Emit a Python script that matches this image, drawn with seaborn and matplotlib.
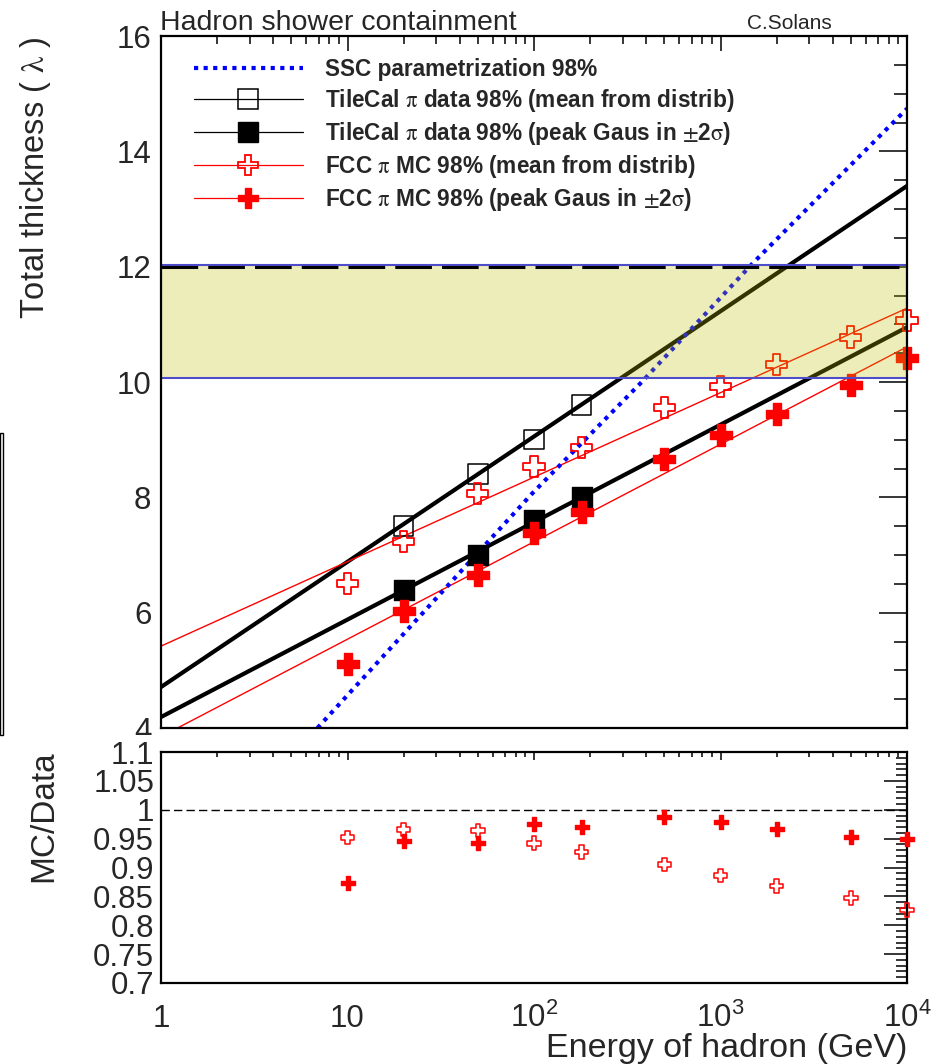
import numpy as np
import pandas as pd
import matplotlib
matplotlib.use("Agg")
import matplotlib.pyplot as plt
import seaborn as sns
from matplotlib.lines import Line2D
from matplotlib.patches import Rectangle
from matplotlib.ticker import MultipleLocator, LogLocator, NullFormatter, FixedLocator

# ---------------- data ----------------
E_tile = [20, 50, 100, 180]
tile_mean = [7.5, 8.4, 9.0, 9.6]
tile_peak = [6.4, 7.0, 7.6, 8.0]

E_fcc = [10, 20, 50, 100, 180, 500, 1000, 2000, 5000, 10000]
fcc_mean = [6.51, 7.24, 8.07, 8.53, 8.87, 9.55, 9.93, 10.31, 10.78, 11.06]
fcc_peak = [5.11, 6.03, 6.65, 7.38, 7.75, 8.66, 9.08, 9.44, 9.95, 10.42]

ratio_mean = [0.952, 0.966, 0.964, 0.942, 0.927, 0.905, 0.886, 0.868, 0.847, 0.826]
ratio_peak = [0.873, 0.946, 0.943, 0.975, 0.970, 0.988, 0.979, 0.967, 0.952, 0.950]

fit_E = [1, 10000]
tile_mean_fit = [4.71, 13.40]
tile_peak_fit = [4.19, 10.95]
fcc_mean_fit = [5.42, 11.28]
fcc_peak_fit = [3.85, 10.61]

ssc_E = [6.9, 98, 378, 1490, 10000]
ssc_y = [4.0, 8.07, 10.0, 12.06, 14.74]

band_lo, band_hi = 10.07, 12.0

legend_labels = [
    "SSC parametrization 98%",
    r"TileCal $\mathrm{\pi}$ data 98% (mean from distrib)",
    r"TileCal $\mathrm{\pi}$ data 98% (peak Gaus in $\pm$2$\mathrm{\sigma}$)",
    r"FCC $\mathrm{\pi}$ MC 98% (mean from distrib)",
    r"FCC $\mathrm{\pi}$ MC 98% (peak Gaus in $\pm$2$\mathrm{\sigma}$)",
]
upper_yticks = [4, 6, 8, 10, 12, 14, 16]
lower_yticks = [0.7, 0.75, 0.8, 0.85, 0.9, 0.95, 1.0, 1.05, 1.1]
xticks = [1, 10, 100, 1000, 10000]
xticklabels = ["1", "10", r"$\mathregular{10^{2}}$", r"$\mathregular{10^{3}}$", r"$\mathregular{10^{4}}$"]

# ---------------- style ----------------
sns.set_theme(style="white")
plt.rcParams["font.family"] = ["Liberation Sans", "DejaVu Sans"]
plt.rcParams["mathtext.fontset"] = "stix"

W, H = 933, 1064
fig = plt.figure(figsize=(W / 100, H / 100), dpi=100)
fig.patch.set_facecolor("white")


def rect(l, t, r, b):
    return [l / W, 1 - b / H, (r - l) / W, (b - t) / H]


ax1 = fig.add_axes(rect(161, 36, 907, 728))
ax2 = fig.add_axes(rect(161, 752, 907, 983))
ax1.set_zorder(0)
ax2.set_zorder(2)

RED = "#ff0000"

# ---------------- upper panel ----------------
sns.lineplot(x=fit_E, y=tile_mean_fit, color="black", lw=3, ax=ax1, zorder=2)
sns.lineplot(x=fit_E, y=tile_peak_fit, color="black", lw=3, ax=ax1, zorder=2)
sns.lineplot(x=fit_E, y=fcc_mean_fit, color=RED, lw=1.0, ax=ax1, zorder=2)
sns.lineplot(x=fit_E, y=fcc_peak_fit, color=RED, lw=1.0, ax=ax1, zorder=2)
sns.lineplot(x=ssc_E, y=ssc_y, color="#0000ff", lw=3, ax=ax1, zorder=3,
             linestyle=(0, (1.0, 1.3)))

sns.scatterplot(x=E_tile, y=tile_mean, marker="s", s=200, facecolor="none",
                edgecolor="black", linewidth=1.1, ax=ax1, zorder=4, clip_on=False)
sns.scatterplot(x=E_tile, y=tile_peak, marker="s", s=200, facecolor="black",
                edgecolor="black", linewidth=1.0, ax=ax1, zorder=4, clip_on=False)
sns.scatterplot(x=E_fcc, y=fcc_mean, marker="P", s=230, facecolor="none",
                edgecolor=RED, linewidth=1.3, ax=ax1, zorder=4, clip_on=False)
sns.scatterplot(x=E_fcc, y=fcc_peak, marker="P", s=230, facecolor=RED,
                edgecolor=RED, linewidth=1.0, ax=ax1, zorder=4, clip_on=False)

ax1.axhspan(band_lo, band_hi + 0.03, facecolor=(0.74, 0.74, 0.0, 0.27),
            edgecolor=(0.3, 0.3, 0.8, 1.0), lw=1.5, zorder=5)
ax1.axhline(band_hi, color="black", lw=2.2, dashes=(12, 3.3), zorder=6)

ax1.set_xscale("log")
ax1.set_xlim(1, 10000)
ax1.set_ylim(4, 16)
ax1.set_xlabel("")
ax1.set_ylabel("")
ax1.yaxis.set_major_locator(FixedLocator(upper_yticks))
ax1.yaxis.set_minor_locator(MultipleLocator(0.5))
ax1.xaxis.set_major_locator(FixedLocator(xticks))
ax1.xaxis.set_minor_locator(LogLocator(base=10, subs=range(2, 10), numticks=20))
ax1.xaxis.set_major_formatter(NullFormatter())
ax1.xaxis.set_minor_formatter(NullFormatter())
ax1.set_yticklabels([str(v) for v in upper_yticks])
ax1.tick_params(axis="both", which="both", direction="in", top=True, right=True,
                color="black", width=1.1)
ax1.tick_params(axis="y", which="major", length=20, pad=7, labelsize=22.5)
ax1.tick_params(axis="y", which="minor", length=9.5)
ax1.tick_params(axis="x", which="major", length=11)
ax1.tick_params(axis="x", which="minor", length=6)
for sp in ax1.spines.values():
    sp.set_color("black")
    sp.set_linewidth(1.6)
    sp.set_zorder(7)

handles = [
    Line2D([], [], color="#0000ff", lw=3, linestyle=(0, (1.0, 1.3))),
    Line2D([], [], color="black", lw=0.9, marker="s", ms=14, mfc="none", mec="black", mew=1.1),
    Line2D([], [], color="black", lw=0.9, marker="s", ms=14, mfc="black", mec="black"),
    Line2D([], [], color=RED, lw=0.9, marker="P", ms=15, mfc="none", mec=RED, mew=1.3),
    Line2D([], [], color=RED, lw=0.9, marker="P", ms=15, mfc=RED, mec=RED),
]
leg = ax1.legend(handles, legend_labels, loc="upper left",
                 bbox_to_anchor=((194 - 161) / 746, 1 - (58 - 36) / 692),
                 frameon=False, borderpad=0, borderaxespad=0, handlelength=4.8,
                 handletextpad=0.98, labelspacing=0.26,
                 prop={"family": ["Liberation Sans", "DejaVu Sans"], "weight": "bold", "size": 16.3})
leg.set_zorder(8)

# ---------------- lower panel ----------------
ax2.axhline(1.0, color="black", lw=1.0, dashes=(6, 3), zorder=1)
sns.scatterplot(x=E_fcc, y=ratio_mean, marker="P", s=95, facecolor="none",
                edgecolor=RED, linewidth=1.1, ax=ax2, zorder=3, clip_on=False)
sns.scatterplot(x=E_fcc, y=ratio_peak, marker="P", s=95, facecolor=RED,
                edgecolor=RED, linewidth=1.0, ax=ax2, zorder=3, clip_on=False)
ax2.set_xscale("log")
ax2.set_xlim(1, 10000)
ax2.set_ylim(0.7, 1.1)
ax2.set_xlabel("")
ax2.set_ylabel("")
ax2.yaxis.set_major_locator(FixedLocator(lower_yticks))
ax2.yaxis.set_minor_locator(MultipleLocator(0.01))
ax2.set_yticklabels(["%g" % v for v in lower_yticks])
ax2.xaxis.set_major_locator(FixedLocator(xticks))
ax2.xaxis.set_minor_locator(LogLocator(base=10, subs=range(2, 10), numticks=20))
ax2.xaxis.set_minor_formatter(NullFormatter())
ax2.set_xticklabels(xticklabels)
ax2.tick_params(axis="both", which="both", direction="in", top=True, right=True,
                color="black", width=1.1)
ax2.tick_params(axis="y", which="major", length=16.5, pad=5, labelsize=22.5)
ax2.tick_params(axis="y", which="minor", length=8)
ax2.tick_params(axis="x", which="major", length=5.5, pad=31.5, labelsize=22.5)
ax2.tick_params(axis="x", which="minor", length=3.5)
for lab in ax2.get_xticklabels():
    lab.set_verticalalignment("baseline")
for sp in ax2.spines.values():
    sp.set_color("black")
    sp.set_linewidth(1.6)

# white pad covering part of the upper panel's lowest label
fig.patches.append(Rectangle((0, 0), 1, 1 - 735 / H, transform=fig.transFigure,
                             facecolor="white", edgecolor="none", zorder=1))
# remnant frame at the far left
fig.patches.append(Rectangle((0.3 / W, 1 - 735 / H), 2.7 / W, 302 / H,
                             transform=fig.transFigure, facecolor="none",
                             edgecolor="black", lw=1.0, zorder=3))

# ---------------- texts ----------------
fig.text(160 / W, 1 - 30 / H, "Hadron shower containment", fontsize=20.5, va="baseline")
fig.text(747 / W, 1 - 29 / H, "C.Solans", fontsize=15, va="baseline")
fig.text(36 / W, 1 - 36 / H, r"Total thickness ( $\mathrm{\lambda}$ )", rotation=90,
         ha="center", va="top", fontsize=23.5)
fig.text(44 / W, 1 - 750 / H, "MC/Data", rotation=90, ha="center", va="top", fontsize=24)
fig.text(907 / W, 1 - 1057 / H, "Energy of hadron (GeV)", ha="right", va="baseline", fontsize=24.5)

fig.savefig("out.png", dpi=100, facecolor="white")
